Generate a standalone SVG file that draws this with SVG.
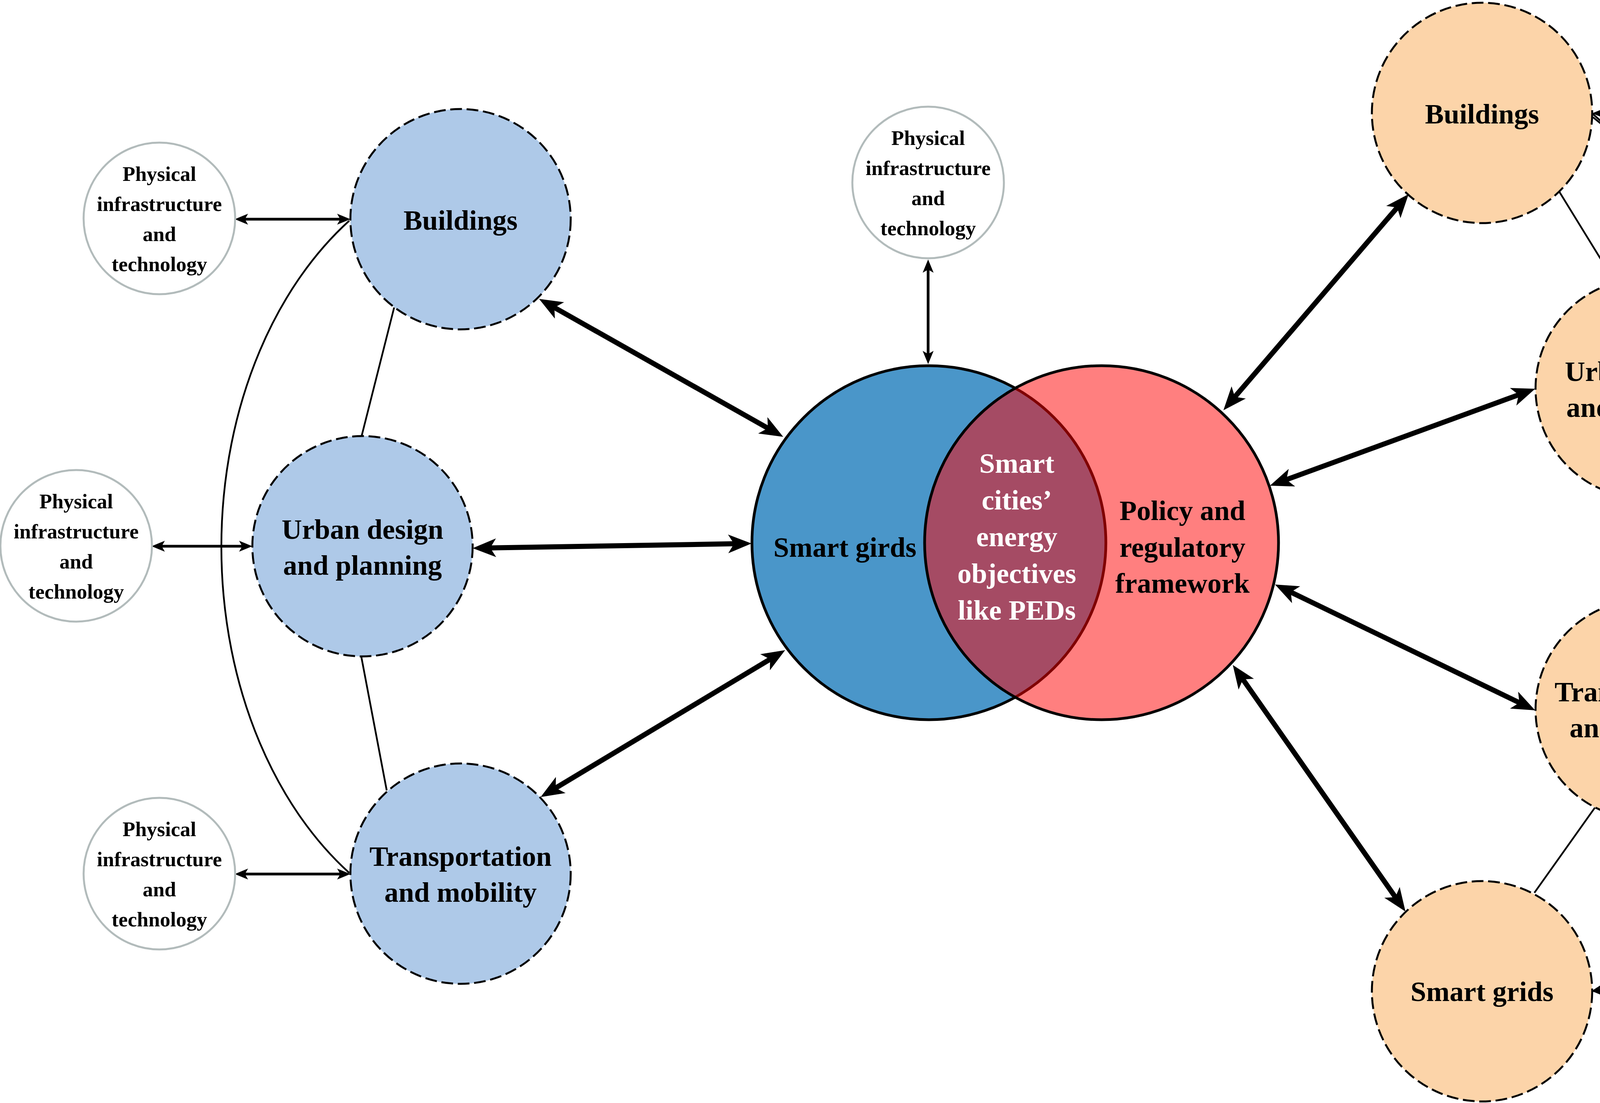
<svg xmlns="http://www.w3.org/2000/svg" width="5161" height="2823" viewBox="0 0 5161 2823">
<style>
.bg{fill:#ffffff}
.blue{fill:#AEC9E8;stroke:#000;stroke-width:5;stroke-dasharray:30 12}
.peach{fill:#FCD4A9;stroke:#000;stroke-width:5;stroke-dasharray:30 12}
.small{fill:#ffffff;stroke:#B2BBBB;stroke-width:5}
.t{font-family:'Liberation Serif','Times New Roman',serif;font-weight:bold;text-anchor:middle;fill:#000}
.big{font-size:72px}
.sm{font-size:53px}
.wt{fill:#ffffff}
.thick{stroke:#000;stroke-width:13;fill:none;marker-start:url(#ahk);marker-end:url(#ahk)}
.thin{stroke:#000;stroke-width:7;fill:none;marker-start:url(#ahn);marker-end:url(#ahn)}
.link{stroke:#000;stroke-width:4.5;fill:none}
</style>
<defs>
<marker id="ahk" markerUnits="userSpaceOnUse" viewBox="0 -30 70 60" markerWidth="70" markerHeight="60" refX="22" refY="0" orient="auto-start-reverse"><path d="M0,-24 L60,0 L0,24 L15,0 z" fill="#000"/></marker>
<marker id="ahn" markerUnits="userSpaceOnUse" viewBox="0 -16 40 32" markerWidth="40" markerHeight="32" refX="12" refY="0" orient="auto-start-reverse"><path d="M0,-14 L34,0 L0,14 L8,0 z" fill="#000"/></marker>
</defs>
<rect class="bg" x="0" y="0" width="5161" height="2823"/>

<g id="center">
<circle cx="2378" cy="1389" r="453" fill="#4A96C9" stroke="#000" stroke-width="7"/>
<circle cx="2820" cy="1389" r="453" fill="rgb(255,0,0)" fill-opacity="0.5" stroke="#000" stroke-width="7"/>
<text class="t big" x="2163" y="1425">Smart girds</text>
<text class="t big wt" x="2603" y="1210">Smart</text>
<text class="t big wt" x="2603" y="1304">cities’</text>
<text class="t big wt" x="2603" y="1398">energy</text>
<text class="t big wt" x="2603" y="1492">objectives</text>
<text class="t big wt" x="2603" y="1586">like PEDs</text>
<text class="t big" x="3027" y="1331">Policy and</text>
<text class="t big" x="3027" y="1425">regulatory</text>
<text class="t big" x="3027" y="1517">framework</text>
</g>

<g id="connectors">
<path class="link" d="M894,565 A729,1000 0 0 0 894,2234"/>
<line class="link" x1="1009" y1="787" x2="926" y2="1115"/>
<line class="link" x1="925" y1="1681" x2="990" y2="2023"/>
<line class="link" x1="3992" y1="491" x2="4133" y2="720"/>
<line class="link" x1="4216" y1="1276" x2="4216" y2="1533"/>
<line class="link" x1="4083" y1="2067" x2="3928" y2="2285"/>
<path class="link" d="M4078,292 C4498,665 4779,954 4779,1454 C4779,1954 4520,2250 4078,2537"/>
<path class="link" d="M4078,300 C4678,780 4780,1400 4495,1811"/>
<path class="link" d="M4495,1000 C4620,1400 4830,2080 4078,2537"/>

<line class="thick" x1="1413.1" y1="783.7" x2="1971.9" y2="1099.3"/>
<line class="thick" x1="1248" y1="1402.4" x2="1886" y2="1391.6"/>
<line class="thick" x1="1416.6" y1="2020.4" x2="1977.4" y2="1683.6"/>
<line class="thick" x1="3156.7" y1="1021.1" x2="3581.3" y2="525.9"/>
<line class="thick" x1="3286.7" y1="1230" x2="3894.3" y2="1008"/>
<line class="thick" x1="3298.2" y1="1512.5" x2="3895.8" y2="1801.5"/>
<line class="thick" x1="3177.8" y1="1733.1" x2="3576.2" y2="2301.9"/>

<line class="thin" x1="623" y1="561" x2="875" y2="561"/>
<line class="thin" x1="410" y1="1398" x2="624" y2="1398"/>
<line class="thin" x1="623" y1="2237" x2="875" y2="2237"/>
<line class="thin" x1="2376" y1="686" x2="2376" y2="910"/>
<line class="thin" x1="4098" y1="290" x2="4330" y2="290"/>
<line class="thin" x1="4517" y1="995" x2="4749" y2="995"/>
<line class="thin" x1="4517" y1="1816" x2="4749" y2="1813"/>
<line class="thin" x1="4098" y1="2537" x2="4330" y2="2537"/>
</g>

<g id="n-buildings-left">
<circle class="blue" cx="1179" cy="561" r="282"/>
<text class="t big" x="1179" y="588">Buildings</text>
</g>
<g id="n-urban-left">
<circle class="blue" cx="928" cy="1398" r="282"/>
<text class="t big" x="928" y="1379">Urban design</text>
<text class="t big" x="928" y="1471">and planning</text>
</g>
<g id="n-transport-left">
<circle class="blue" cx="1179" cy="2236" r="282"/>
<text class="t big" x="1179" y="2216">Transportation</text>
<text class="t big" x="1179" y="2308">and mobility</text>
</g>

<g id="n-phys-1">
<circle class="small" cx="408" cy="559" r="194"/>
<text class="t sm" x="408" y="463">Physical</text>
<text class="t sm" x="408" y="540">infrastructure</text>
<text class="t sm" x="408" y="617">and</text>
<text class="t sm" x="408" y="694">technology</text>
</g>
<g id="n-phys-2">
<circle class="small" cx="195" cy="1397" r="194"/>
<text class="t sm" x="195" y="1301">Physical</text>
<text class="t sm" x="195" y="1378">infrastructure</text>
<text class="t sm" x="195" y="1455">and</text>
<text class="t sm" x="195" y="1532">technology</text>
</g>
<g id="n-phys-3">
<circle class="small" cx="408" cy="2236" r="194"/>
<text class="t sm" x="408" y="2140">Physical</text>
<text class="t sm" x="408" y="2217">infrastructure</text>
<text class="t sm" x="408" y="2294">and</text>
<text class="t sm" x="408" y="2371">technology</text>
</g>
<g id="n-phys-top">
<circle class="small" cx="2376" cy="467" r="194"/>
<text class="t sm" x="2376" y="371">Physical</text>
<text class="t sm" x="2376" y="448">infrastructure</text>
<text class="t sm" x="2376" y="525">and</text>
<text class="t sm" x="2376" y="602">technology</text>
</g>

<g id="n-buildings-right">
<circle class="peach" cx="3794" cy="289" r="282"/>
<text class="t big" x="3794" y="316">Buildings</text>
</g>
<g id="n-urban-right">
<circle class="peach" cx="4213" cy="994" r="282"/>
<text class="t big" x="4213" y="975">Urban design</text>
<text class="t big" x="4213" y="1067">and planning</text>
</g>
<g id="n-transport-right">
<circle class="peach" cx="4213" cy="1816" r="282"/>
<text class="t big" x="4213" y="1795">Transportation</text>
<text class="t big" x="4213" y="1887">and mobility</text>
</g>
<g id="n-smartgrids-right">
<circle class="peach" cx="3794" cy="2537" r="282"/>
<text class="t big" x="3794" y="2562">Smart grids</text>
</g>

<g id="n-policy-1">
<circle class="small" cx="4545" cy="287" r="194"/>
<text class="t sm" x="4545" y="229">Policy and</text>
<text class="t sm" x="4545" y="306">regulatory</text>
<text class="t sm" x="4545" y="383">framework</text>
</g>
<g id="n-policy-2">
<circle class="small" cx="4964" cy="995" r="194"/>
<text class="t sm" x="4964" y="937">Policy and</text>
<text class="t sm" x="4964" y="1014">regulatory</text>
<text class="t sm" x="4964" y="1091">framework</text>
</g>
<g id="n-policy-3">
<circle class="small" cx="4964" cy="1813" r="194"/>
<text class="t sm" x="4964" y="1755">Policy and</text>
<text class="t sm" x="4964" y="1832">regulatory</text>
<text class="t sm" x="4964" y="1909">framework</text>
</g>
<g id="n-policy-4">
<circle class="small" cx="4545" cy="2537" r="194"/>
<text class="t sm" x="4545" y="2479">Policy and</text>
<text class="t sm" x="4545" y="2556">regulatory</text>
<text class="t sm" x="4545" y="2633">framework</text>
</g>
</svg>
